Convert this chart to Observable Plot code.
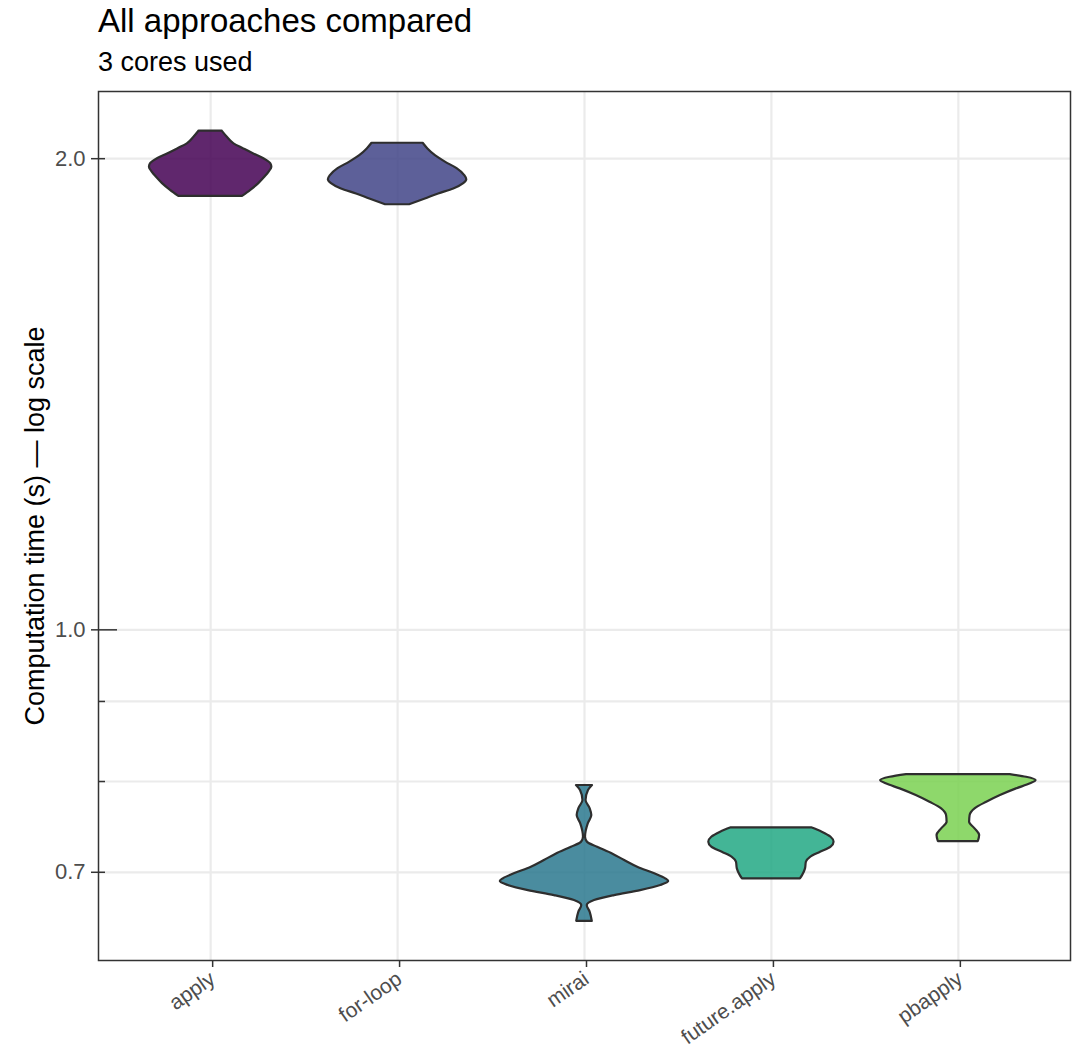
<!DOCTYPE html>
<html>
<head>
<meta charset="utf-8">
<script src="https://cdn.jsdelivr.net/npm/d3@7"></script>
<script src="https://cdn.jsdelivr.net/npm/@observablehq/plot@0.6"></script>
<style>
  body { margin: 0; background: white; font-family: "Liberation Sans", Arial, Helvetica, sans-serif; }
  #wrap { width: 1082px; }
  #header { position: relative; height: 80px; }
  #title { position: absolute; left: 98px; top: 4px; font-size: 33px; line-height: 1; color: #000; white-space: nowrap; }
  #subtitle { position: absolute; left: 98px; top: 49px; font-size: 27px; line-height: 1; color: #000; white-space: nowrap; }
</style>
</head>
<body>
<div id="wrap">
  <div id="header">
    <div id="title">All approaches compared</div>
    <div id="subtitle">3 cores used</div>
  </div>
  <div id="chart"></div>
</div>
<script>
// ---- data ----
const categories = ["apply", "for-loop", "mirai", "future.apply", "pbapply"];
const fillColors = ["#440154", "#414487", "#2a788e", "#22a884", "#7ad151"];

// violin outlines: computation time (s) and relative density (1 = widest violin)
const applyTime    = [2.083, 2.064, 2.044, 2.029, 2.014, 2.000, 1.985, 1.975, 1.961, 1.946, 1.928, 1.909, 1.892];
const applyDensity = [0.135, 0.196, 0.274, 0.388, 0.506, 0.624, 0.706, 0.718, 0.686, 0.635, 0.565, 0.471, 0.373];

const forLoopTime    = [2.046, 2.029, 2.009, 1.990, 1.971, 1.951, 1.939, 1.928, 1.913, 1.899, 1.885, 1.869];
const forLoopDensity = [0.300, 0.356, 0.444, 0.561, 0.698, 0.788, 0.812, 0.776, 0.659, 0.482, 0.326, 0.141];

const miraiTime    = [0.7953, 0.7894, 0.7779, 0.7685, 0.7609, 0.7517, 0.7370, 0.7316, 0.7263, 0.7192, 0.7122, 0.7052, 0.6984, 0.6933, 0.6905, 0.6865, 0.6814, 0.6764, 0.6715, 0.6665, 0.6600, 0.6513];
const miraiDensity = [0.094, 0.047, 0.018, 0.067, 0.086, 0.044, 0.012, 0.035, 0.153, 0.329, 0.471, 0.624, 0.824, 0.953, 0.988, 0.894, 0.659, 0.353, 0.118, 0.032, 0.067, 0.091];

const futureTime    = [0.7473, 0.7425, 0.7370, 0.7316, 0.7263, 0.7209, 0.7156, 0.7104, 0.7035, 0.6966, 0.6933];
const futureDensity = [0.471, 0.596, 0.700, 0.735, 0.700, 0.576, 0.459, 0.410, 0.400, 0.365, 0.340];

const pbTime    = [0.8082, 0.8050, 0.8011, 0.7973, 0.7914, 0.7837, 0.7760, 0.7685, 0.7609, 0.7535, 0.7462, 0.7389, 0.7324];
const pbDensity = [0.608, 0.800, 0.912, 0.847, 0.682, 0.494, 0.333, 0.196, 0.138, 0.132, 0.196, 0.250, 0.235];

// axis breaks
const yLabelBreaks = [0.7, 1.0, 2.0];
const yGridBreaks = [0.7, 0.8, 0.9, 1.0, 2.0];
const logTicksShort = [0.7, 0.8, 0.9, 2.0];
const logTicksLong = [1.0];
const yDomain = [0.6148, 2.2078];
const yTitle = "Computation time (s) \u2014 log scale";

// ---- build table ----
const series = [
  [applyTime, applyDensity],
  [forLoopTime, forLoopDensity],
  [miraiTime, miraiDensity],
  [futureTime, futureDensity],
  [pbTime, pbDensity]
];
const violin = series.flatMap(([times, dens], i) =>
  times.map((t, k) => ({name: categories[i], i, t, d: dens[k]}))
);
const W = 0.456; // widest half-width in band units

const chart = Plot.plot({
  width: 1082,
  height: 972,
  marginTop: 11,
  marginBottom: 92,
  marginLeft: 98,
  marginRight: 12,
  style: {fontFamily: '"Liberation Sans", Arial, Helvetica, sans-serif', fontSize: "21px", background: "white", overflow: "visible"},
  x: {type: "linear", domain: [-0.6, categories.length - 0.4], label: null},
  y: {type: "log", domain: yDomain, label: null},
  color: {domain: categories, range: fillColors},
  marks: [
    Plot.gridY(yGridBreaks, {stroke: "#ebebeb", strokeOpacity: 1, strokeWidth: 2.2}),
    Plot.gridX(d3.range(categories.length), {stroke: "#ebebeb", strokeOpacity: 1, strokeWidth: 2.2}),
    Plot.areaX(violin, {
      y: "t",
      x1: d => d.i - d.d * W,
      x2: d => d.i + d.d * W,
      z: "name",
      fill: "name",
      fillOpacity: 0.85,
      stroke: "#2e2e2e",
      strokeWidth: 2.2,
      curve: "monotone-y"
    }),
    Plot.frame({stroke: "#333333", strokeWidth: 1.5}),
    Plot.axisY(yLabelBreaks, {tickSize: 7, tickPadding: 6, tickFormat: d => d.toFixed(1), fill: "#4d4d4d", stroke: "#333", strokeWidth: 1.5, fontSize: 22, label: null}),
    Plot.axisY(logTicksShort, {tickSize: -7, fill: "none", stroke: "#333", strokeWidth: 1.5, label: null}),
    Plot.axisY(logTicksLong, {tickSize: -19, fill: "none", stroke: "#333", strokeWidth: 1.5, label: null}),
    Plot.axisX(d3.range(categories.length), {tickSize: 7, tickPadding: 9, dx: 2, tickRotate: -35, tickFormat: i => categories[i], fill: "#4d4d4d", stroke: "#333", strokeWidth: 1.5, fontSize: 21, label: null}),
    Plot.text([yTitle], {text: d => d, frameAnchor: "left", textAnchor: "middle", rotate: -90, dx: -63, fontSize: 27, fill: "black"})
  ]
});
document.getElementById("chart").appendChild(chart);
</script>
</body>
</html>
